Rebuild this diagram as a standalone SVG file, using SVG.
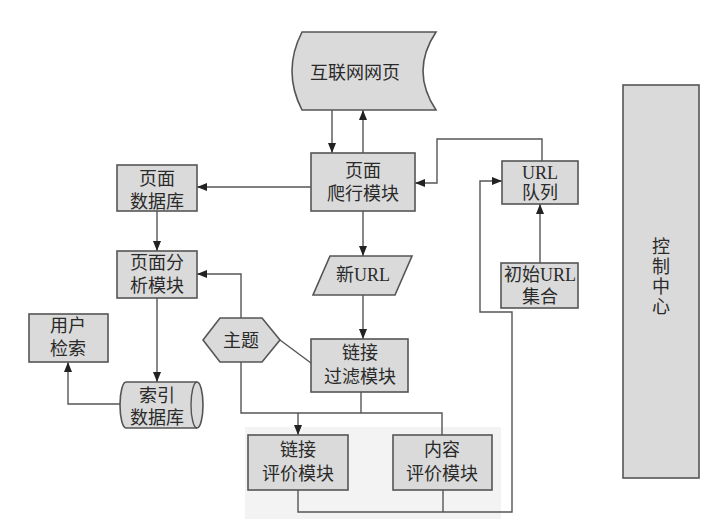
<svg xmlns="http://www.w3.org/2000/svg" width="714" height="528" viewBox="0 0 714 528">
<style>
.box{fill:#dadada;stroke:#555;stroke-width:1.6}
.ln{fill:none;stroke:#555;stroke-width:1.4}
.arr{marker-end:url(#ah)}
text{font-family:"Liberation Serif","Noto Sans CJK SC",serif;font-size:18px;fill:#2a2a2a;text-anchor:middle}
</style>
<defs>
<marker id="ah" markerUnits="userSpaceOnUse" markerWidth="10" markerHeight="8" refX="10" refY="4" orient="auto">
<path d="M0,0 L10,4 L0,8 Z" fill="#222"/>
</marker>
</defs>
<rect width="714" height="528" fill="#fff"/>
<rect x="245" y="427" width="256" height="92" fill="#f3f3f3"/>
<g id="connectors">
<path class="ln arr" d="M332,110 V153"/>
<path class="ln arr" d="M363,153 V110"/>
<path class="ln arr" d="M311,187 H197"/>
<path class="ln arr" d="M157,211 V251"/>
<path class="ln arr" d="M363,211 V256"/>
<path class="ln arr" d="M363,295 V339"/>
<path class="ln arr" d="M157,298 V382"/>
<path class="ln arr" d="M120,404 H68 V362"/>
<path class="ln" d="M280,340 L311,363"/>
<path class="ln arr" d="M241,318 V274 H197"/>
<path class="ln" d="M241,362 V413 H442 V435"/>
<path class="ln" d="M361,392 V413"/>
<path class="ln arr" d="M298,413 V435"/>
<path class="ln arr" d="M298,490 V512 H512 V312 H480 V181 H502"/>
<path class="ln" d="M443,490 V512"/>
<path class="ln arr" d="M542,161 V139 H437 V183 H415"/>
<path class="ln arr" d="M540,263 V204"/>
</g>
<g id="internet">
<path class="box" d="M302,32 L436,32 Q410,71 436,110 L302,110 Q282,71 302,32 Z"/>
<text x="355" y="79">互联网网页</text>
</g>
<g id="crawler">
<rect class="box" x="311" y="153" width="104" height="58"/>
<text x="363" y="177">页面</text>
<text x="363" y="200">爬行模块</text>
</g>
<g id="pagedb">
<rect class="box" x="117" y="165" width="80" height="46"/>
<text x="157" y="185">页面</text>
<text x="157" y="208">数据库</text>
</g>
<g id="analysis">
<rect class="box" x="117" y="251" width="80" height="47"/>
<text x="157" y="269">页面分</text>
<text x="157" y="292">析模块</text>
</g>
<g id="usersearch">
<rect class="box" x="29" y="314" width="79" height="48"/>
<text x="68" y="332">用户</text>
<text x="68" y="355">检索</text>
</g>
<g id="indexdb">
<path class="box" d="M126,382 L197,382 A6,23 0 0 1 197,428 L126,428 A6,23 0 0 1 126,382 Z"/>
<path class="ln" d="M197,382 A6,23 0 0 0 197,428"/>
<text x="157" y="402">索引</text>
<text x="157" y="424">数据库</text>
</g>
<g id="theme">
<path class="box" d="M203,340 L220,318 L262,318 L280,340 L262,362 L220,362 Z"/>
<text x="241" y="347">主题</text>
</g>
<g id="newurl">
<path class="box" d="M330,256 L412,256 L395,295 L313,295 Z"/>
<text x="363" y="281">新URL</text>
</g>
<g id="linkfilter">
<rect class="box" x="311" y="339" width="97" height="53"/>
<text x="360" y="359">链接</text>
<text x="360" y="383">过滤模块</text>
</g>
<g id="linkeval">
<rect class="box" x="248" y="435" width="100" height="55"/>
<text x="298" y="456">链接</text>
<text x="298" y="480">评价模块</text>
</g>
<g id="contenteval">
<rect class="box" x="393" y="435" width="99" height="55"/>
<text x="442" y="456">内容</text>
<text x="442" y="480">评价模块</text>
</g>
<g id="urlqueue">
<rect class="box" x="502" y="161" width="76" height="43"/>
<text x="540" y="179">URL</text>
<text x="540" y="199">队列</text>
</g>
<g id="initurl">
<rect class="box" x="501" y="263" width="77" height="45"/>
<text x="540" y="281">初始URL</text>
<text x="540" y="303">集合</text>
</g>
<g id="control">
<rect class="box" x="623" y="85" width="76" height="393" fill="#dedede"/>
<text x="661" y="253">控</text>
<text x="661" y="273">制</text>
<text x="661" y="293">中</text>
<text x="661" y="313">心</text>
</g>
</svg>
